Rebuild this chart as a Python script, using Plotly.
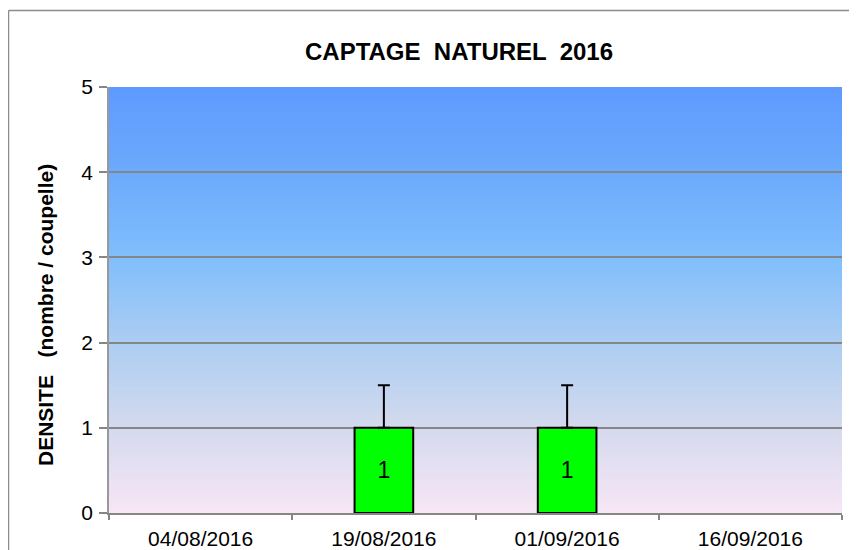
import plotly.graph_objects as go

categories = ["04/08/2016", "19/08/2016", "01/09/2016", "16/09/2016"]
densite = [None, 1, 1, None]
erreur = [0, 0.5, 0.5, 0]
labels = ["", "1", "1", ""]

OFF = 8  # page body margin
W, H = 857 - OFF, 550 - OFF
L, R, T, B = 109 - OFF, 15, 87 - OFF, 37
pw, ph = W - L - R, H - T - B

FONT = "Liberation Sans, Arial"

fig = go.Figure()
fig.add_trace(go.Bar(
    x=categories, y=densite, width=0.32,
    marker=dict(color="#00FF00", line=dict(color="black", width=2)),
    text=labels, textposition="inside", insidetextanchor="middle",
    constraintext="none",
    textfont=dict(family=FONT, size=23, color="black"),
    error_y=dict(type="data", symmetric=False, array=erreur, arrayminus=[0]*4,
                 color="black", thickness=2, width=6),
    showlegend=False,
))

# background gradient
stops = [(0.0, (248, 230, 246)), (0.2, (212, 218, 238)), (0.4, (172, 205, 242)),
         (0.6, (128, 190, 252)), (0.8, (108, 170, 252)), (1.0, (94, 154, 255))]
def col(t):
    for i in range(len(stops) - 1):
        a, ca = stops[i]; b, cb = stops[i + 1]
        if a <= t <= b:
            f = (t - a) / (b - a)
            return "rgb(%d,%d,%d)" % tuple(round(ca[k] + (cb[k] - ca[k]) * f) for k in range(3))
    return "rgb(%d,%d,%d)" % stops[-1][1]
N = 120
shapes = []
for i in range(N):
    y0 = i / N; y1 = (i + 1) / N + 0.002
    shapes.append(dict(type="rect", xref="x domain", yref="y domain", x0=0, x1=1,
                       y0=y0, y1=min(y1, 1), fillcolor=col((i + 0.5) / N),
                       line=dict(width=0), layer="below"))
# chart border
bx = (0.5 - L) / pw
by = (H - B - 2.5) / ph
shapes.append(dict(type="line", xref="paper", yref="paper", x0=bx, x1=bx, y0=-0.2, y1=by,
                   line=dict(color="#8c8c8c", width=1.5)))
shapes.append(dict(type="line", xref="paper", yref="paper", x0=bx, x1=1.1, y0=by, y1=by,
                   line=dict(color="#8c8c8c", width=1.5)))

fig.update_layout(
    width=W, height=H,
    margin=dict(l=L, r=R, t=T, b=B, autoexpand=False),
    paper_bgcolor="white", plot_bgcolor="rgba(0,0,0,0)",
    shapes=shapes,
    font=dict(family=FONT, color="black"),
    title=dict(text="<b>CAPTAGE  NATUREL  2016</b>", x=(459 - OFF) / W, xanchor="center",
               y=1 - (52 - OFF) / H, yanchor="middle",
               font=dict(family=FONT, size=24, color="black")),
    xaxis=dict(type="category", categoryorder="array", categoryarray=categories,
               showgrid=False, showline=True, linecolor="#868686", linewidth=1.5,
               ticks="outside", tickson="boundaries", ticklen=5, tickcolor="#868686",
               tickwidth=1.5, tickfont=dict(size=21, color="black"), range=[-0.5, 3.5],
               ticklabelstandoff=6, automargin=False),
    yaxis=dict(range=[0, 5], dtick=1, showgrid=True, gridcolor="#868686", gridwidth=2,
               showline=True, linecolor="#999999", linewidth=1.5, zeroline=False,
               ticks="outside", ticklen=8, tickcolor="#868686", tickwidth=1.5,
               tickfont=dict(size=21, color="black"), ticklabelstandoff=2,
               automargin=False),
    annotations=[dict(text="<b>DENSITE   (nombre / coupelle)</b>", textangle=-90,
                      xref="paper", yref="paper",
                      x=(45 - 109) / pw, y=(513 - 315) / ph,
                      xanchor="center", yanchor="middle", showarrow=False,
                      font=dict(family=FONT, size=21, color="black"))],
)
fig.write_html("out.html")
